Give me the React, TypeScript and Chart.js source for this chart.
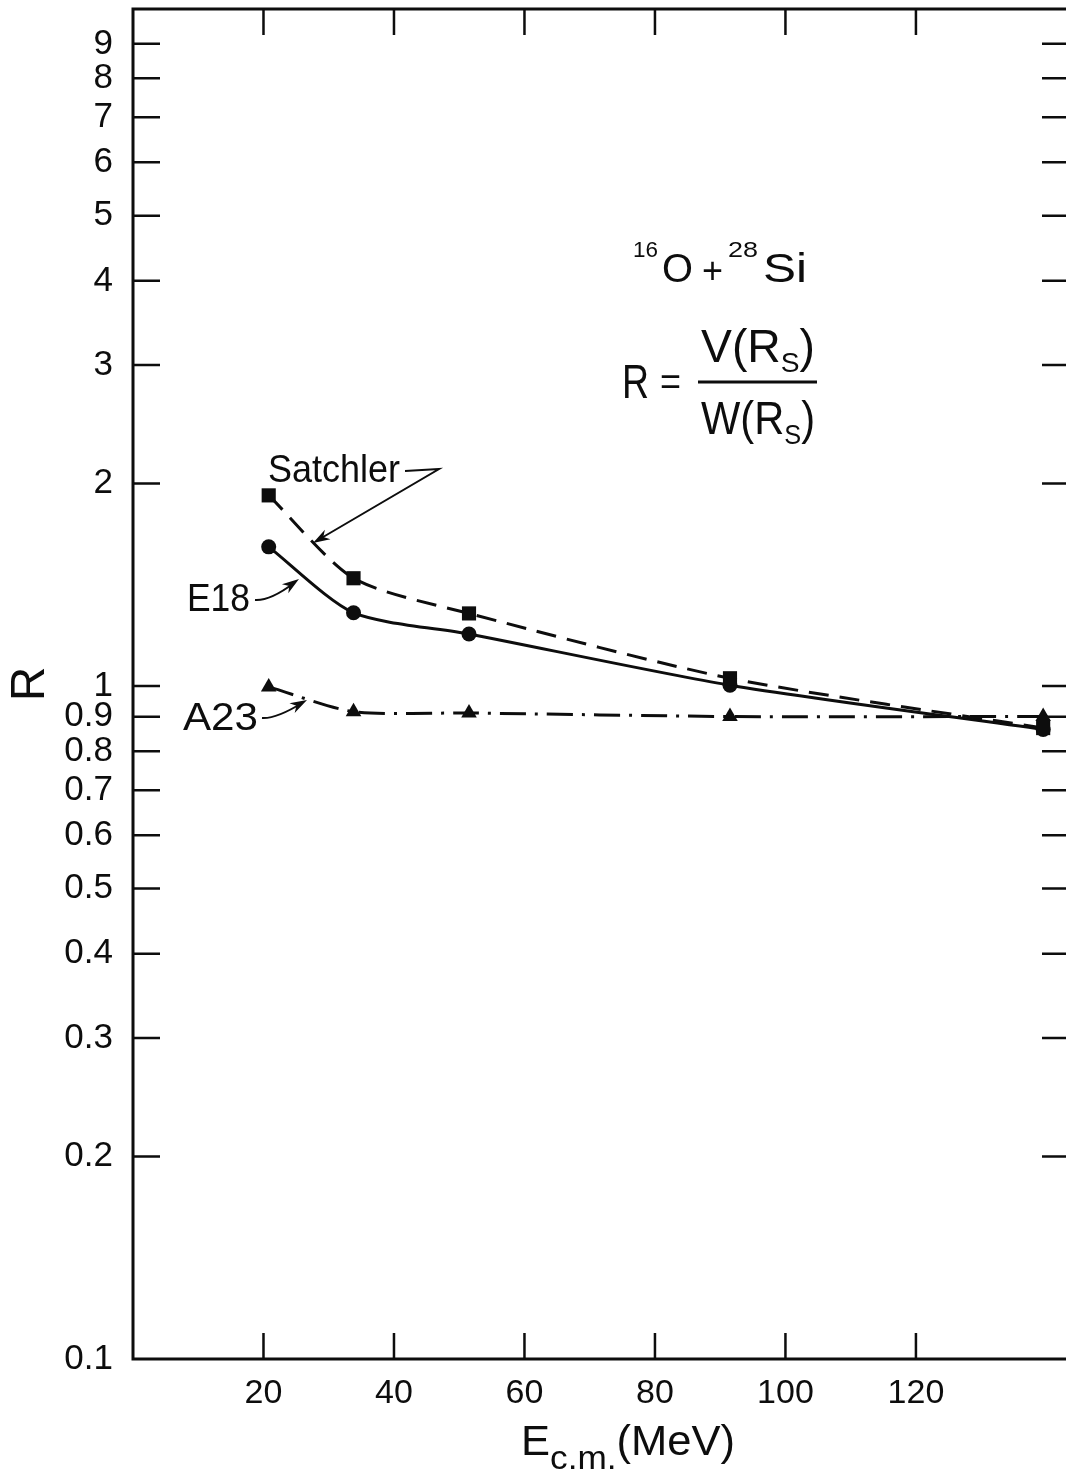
import React, { useEffect, useRef } from "react";
import { Chart, registerables } from "chart.js";

Chart.register(...registerables);

// Centre-of-mass energies (MeV) and ratio R = V(Rs)/W(Rs) for each potential
const energies = [20.8, 33.8, 51.5, 91.5, 139.5];
const satchlerR = [1.92, 1.446, 1.282, 1.027, 0.866];
const e18R = [1.61, 1.285, 1.195, 1.003, 0.862];
const a23R = [0.997, 0.916, 0.912, 0.901, 0.901];

const xTickValues = [20, 40, 60, 80, 100, 120];
const xTickLabels = ["20", "40", "60", "80", "100", "120"];
const yTickValues = [0.1, 0.2, 0.3, 0.4, 0.5, 0.6, 0.7, 0.8, 0.9, 1, 2, 3, 4, 5, 6, 7, 8, 9];
const yTickLabels = ["0.1", "0.2", "0.3", "0.4", "0.5", "0.6", "0.7", "0.8", "0.9", "1", "2", "3", "4", "5", "6", "7", "8", "9"];

const FONT = '"Liberation Sans", "DejaVu Sans", sans-serif';
const INK = "#0d0d0d";

type Run = { t: string; size: number; dy?: number };

// Draw a sequence of text runs on a common baseline, optionally squeezed/stretched to a width.
function drawRuns(ctx: CanvasRenderingContext2D, runs: Run[], x: number, baseline: number, width?: number) {
  let natural = 0;
  const widths: number[] = [];
  for (const r of runs) {
    ctx.font = `${r.size}px ${FONT}`;
    const w = ctx.measureText(r.t).width;
    widths.push(w);
    natural += w;
  }
  const sx = width ? width / natural : 1;
  ctx.save();
  ctx.translate(x, baseline);
  ctx.scale(sx, 1);
  ctx.textAlign = "left";
  ctx.textBaseline = "alphabetic";
  ctx.fillStyle = INK;
  let cx = 0;
  runs.forEach((r, i) => {
    ctx.font = `${r.size}px ${FONT}`;
    ctx.fillText(r.t, cx, r.dy || 0);
    cx += widths[i];
  });
  ctx.restore();
}

function arrowHead(ctx: CanvasRenderingContext2D, fx: number, fy: number, tx: number, ty: number) {
  const ang = Math.atan2(ty - fy, tx - fx);
  const len = 17;
  const half = 5.5;
  const bx = tx - Math.cos(ang) * len;
  const by = ty - Math.sin(ang) * len;
  ctx.beginPath();
  ctx.moveTo(tx, ty);
  ctx.lineTo(bx + Math.sin(ang) * half, by - Math.cos(ang) * half);
  ctx.lineTo(bx + Math.cos(ang) * 5, by + Math.sin(ang) * 5);
  ctx.lineTo(bx - Math.sin(ang) * half, by + Math.cos(ang) * half);
  ctx.closePath();
  ctx.fill();
}

const framePlugin = {
  id: "frameAndTicks",
  afterDraw(chart: any) {
    const ctx: CanvasRenderingContext2D = chart.ctx;
    const { left, right, top, bottom } = chart.chartArea;
    const xs = chart.scales.x;
    const ys = chart.scales.y;
    ctx.save();
    ctx.strokeStyle = INK;
    ctx.fillStyle = INK;
    ctx.lineCap = "butt";

    // frame: left, bottom, top
    ctx.lineWidth = 3;
    ctx.beginPath();
    ctx.moveTo(right, top);
    ctx.lineTo(left, top);
    ctx.lineTo(left, bottom);
    ctx.lineTo(right, bottom);
    ctx.stroke();

    // inward ticks
    ctx.lineWidth = 2.5;
    ctx.beginPath();
    for (const v of yTickValues) {
      if (v <= 0.1) continue;
      const py = ys.getPixelForValue(v);
      ctx.moveTo(left, py);
      ctx.lineTo(left + 27, py);
      ctx.moveTo(right - 24, py);
      ctx.lineTo(right, py);
    }
    for (const v of xTickValues) {
      const px = xs.getPixelForValue(v);
      ctx.moveTo(px, bottom);
      ctx.lineTo(px, bottom - 26);
      ctx.moveTo(px, top);
      ctx.lineTo(px, top + 26);
    }
    ctx.stroke();

    // curve labels with pointer arrows
    drawRuns(ctx, [{ t: "Satchler", size: 39 }], 268, 482, 132);
    drawRuns(ctx, [{ t: "E18", size: 39 }], 187, 611, 63);
    drawRuns(ctx, [{ t: "A23", size: 39 }], 183, 730, 75);

    ctx.lineWidth = 2;
    ctx.beginPath();
    ctx.moveTo(405, 471);
    ctx.lineTo(439, 469);
    ctx.lineTo(318, 540);
    ctx.stroke();
    arrowHead(ctx, 439, 469, 313, 543);

    ctx.beginPath();
    ctx.moveTo(255, 600);
    ctx.quadraticCurveTo(270, 601, 294, 583);
    ctx.stroke();
    arrowHead(ctx, 275, 596, 299, 579);

    ctx.beginPath();
    ctx.moveTo(262, 718);
    ctx.quadraticCurveTo(276, 719, 302, 703);
    ctx.stroke();
    arrowHead(ctx, 283, 713, 307, 700);

    // reaction label
    drawRuns(ctx, [{ t: "16", size: 22 }], 633, 257, 25);
    drawRuns(ctx, [{ t: "O", size: 41 }], 662, 282, 31);
    drawRuns(ctx, [{ t: "+", size: 36 }], 702, 283, 21);
    drawRuns(ctx, [{ t: "28", size: 22 }], 728, 257, 30);
    drawRuns(ctx, [{ t: "Si", size: 41 }], 763, 282, 44);

    // definition of R
    drawRuns(ctx, [{ t: "R", size: 48 }], 622, 398, 27);
    drawRuns(ctx, [{ t: "=", size: 38 }], 660, 395, 21);
    ctx.lineWidth = 3;
    ctx.beginPath();
    ctx.moveTo(698, 382);
    ctx.lineTo(817, 382);
    ctx.stroke();
    drawRuns(ctx, [{ t: "V(R", size: 46 }, { t: "S", size: 28, dy: 10 }, { t: ")", size: 46 }], 701, 362, 114);
    drawRuns(ctx, [{ t: "W(R", size: 46 }, { t: "S", size: 28, dy: 10 }, { t: ")", size: 46 }], 701, 434, 114);

    // x-axis title
    drawRuns(ctx, [{ t: "E", size: 42 }, { t: "c.m.", size: 34, dy: 14 }, { t: "(MeV)", size: 42 }], 521, 1455, 214);

    ctx.restore();
  },
};

export default function App() {
  const canvasRef = useRef<HTMLCanvasElement | null>(null);

  useEffect(() => {
    const canvas = canvasRef.current;
    if (!canvas) return;
    const mk = (ys: number[]) => energies.map((x, i) => ({ x, y: ys[i] }));

    const chart = new Chart(canvas, {
      type: "scatter",
      data: {
        datasets: [
          {
            label: "Satchler",
            data: mk(satchlerR),
            showLine: true,
            borderColor: INK,
            backgroundColor: INK,
            borderWidth: 3,
            borderDash: [20, 11],
            tension: 0.25,
            pointStyle: "rect",
            pointRadius: 10,
            pointBorderWidth: 0,
          },
          {
            label: "E18",
            data: mk(e18R),
            showLine: true,
            borderColor: INK,
            backgroundColor: INK,
            borderWidth: 3,
            tension: 0.25,
            pointStyle: "circle",
            pointRadius: 7.5,
            pointBorderWidth: 0,
          },
          {
            label: "A23",
            data: mk(a23R),
            showLine: true,
            borderColor: INK,
            backgroundColor: INK,
            borderWidth: 3,
            borderDash: [26, 9, 3, 9],
            tension: 0.25,
            pointStyle: "triangle",
            pointRadius: 9,
            pointBorderWidth: 0,
          },
        ],
      },
      options: {
        responsive: false,
        animation: false,
        devicePixelRatio: 1,
        layout: { autoPadding: false, padding: { top: 9, left: 0, right: 0, bottom: 0 } },
        plugins: {
          legend: { display: false },
          tooltip: { enabled: false },
        },
        scales: {
          x: {
            type: "linear",
            position: "bottom",
            min: 0,
            max: 143,
            grid: { display: false },
            border: { display: false },
            afterBuildTicks: (s: any) => {
              s.ticks = xTickValues.map((v) => ({ value: v }));
            },
            afterFit: (s: any) => {
              s.height = 118;
              s.paddingLeft = 0;
              s.paddingRight = 0;
            },
            ticks: {
              autoSkip: false,
              maxRotation: 0,
              padding: 6,
              color: INK,
              font: { family: FONT, size: 34 },
              callback: (v: any) => xTickLabels[xTickValues.indexOf(Number(v))] ?? "",
            },
          },
          y: {
            type: "logarithmic",
            position: "left",
            min: 0.1,
            max: 10.14,
            grid: { display: false },
            border: { display: false },
            afterBuildTicks: (s: any) => {
              s.ticks = yTickValues.map((v) => ({ value: v }));
            },
            afterFit: (s: any) => {
              s.width = 133;
              s.paddingTop = 0;
              s.paddingBottom = 0;
            },
            title: {
              display: true,
              text: "R",
              color: INK,
              font: { family: FONT, size: 48 },
              padding: { top: 2, bottom: 0 },
            },
            ticks: {
              autoSkip: false,
              padding: 12,
              color: INK,
              font: { family: FONT, size: 35 },
              callback: (v: any) => yTickLabels[yTickValues.indexOf(Number(v))] ?? "",
            },
          },
        },
      },
      plugins: [framePlugin],
    } as any);

    return () => chart.destroy();
  }, []);

  return (
    <div style={{ position: "absolute", left: 0, top: 0, width: 1066, height: 1477, background: "#fff", overflow: "hidden" }}>
      <canvas ref={canvasRef} width={1066} height={1477} style={{ display: "block" }} />
    </div>
  );
}
